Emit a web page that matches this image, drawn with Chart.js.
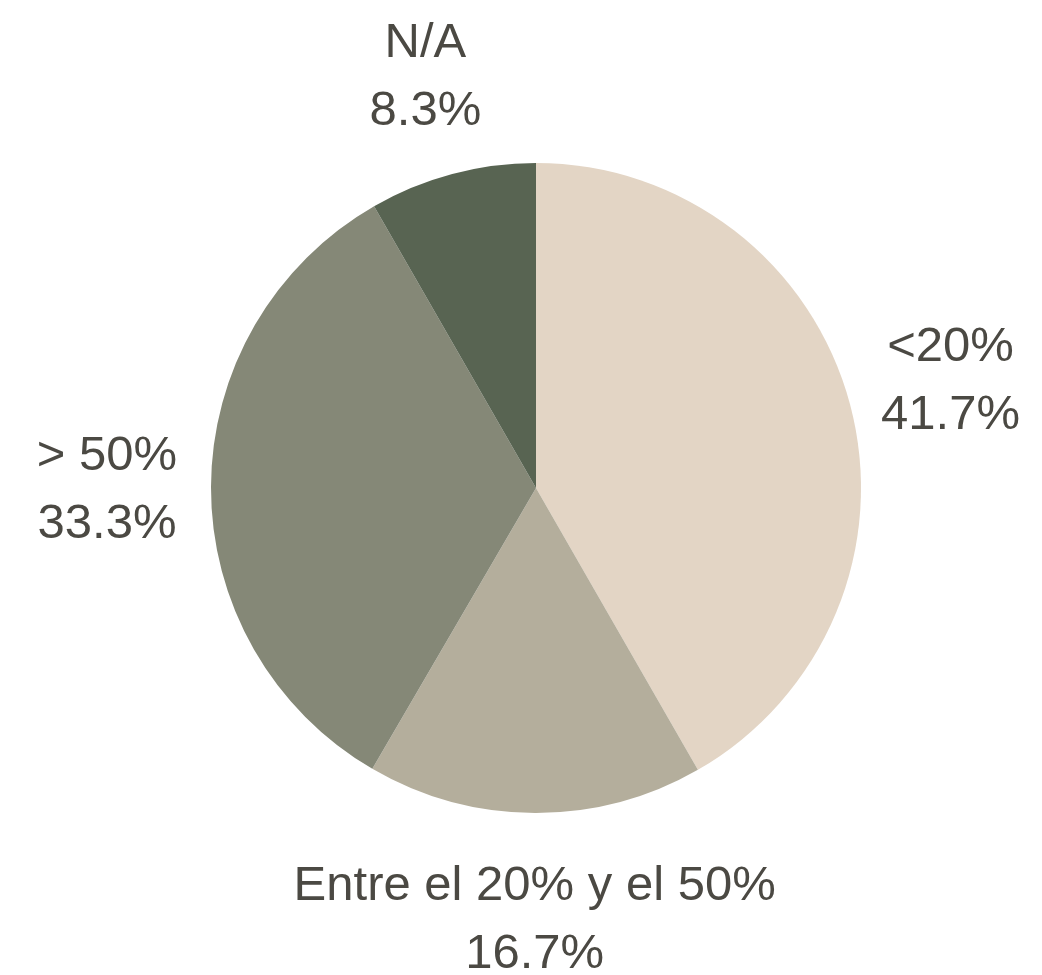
<!DOCTYPE html>
<html>
<head>
<meta charset="utf-8">
<script src="https://cdn.jsdelivr.net/npm/chart.js@4"></script>
<style>
  html, body { margin: 0; padding: 0; background: #ffffff; }
  #wrap { width: 1042px; height: 975px; }
</style>
</head>
<body>
<div id="wrap"><canvas id="pieChart" width="1042" height="975"></canvas></div>
<script>
const categories = ['<20%', 'Entre el 20% y el 50%', '> 50%', 'N/A'];
const shares = [41.7, 16.7, 33.3, 8.3];
const sliceColors = ['#E3D5C5', '#B4AE9C', '#858877', '#586452'];

// draws the two-line label (name + percent) outside each slice
const outsideLabels = {
    id: 'outsideLabels',
    afterDraw(chart) {
        const ctx = chart.ctx;
        const meta = chart.getDatasetMeta(0);
        ctx.save();
        ctx.font = '49px "Liberation Sans", Arial, sans-serif';
        ctx.fillStyle = '#4B4943';
        ctx.textAlign = 'center';
        ctx.textBaseline = 'alphabetic';
        meta.data.forEach((arc, i) => {
            const p = arc.getProps(['x', 'y', 'startAngle', 'endAngle', 'outerRadius'], true);
            const mid = (p.startAngle + p.endAngle) / 2;
            const dist = p.outerRadius + 104;
            const cx = p.x + Math.cos(mid) * dist;
            const cy = p.y + Math.sin(mid) * dist;
            const base = cy - 16.5;
            ctx.fillText(categories[i], cx, base);
            ctx.fillText(shares[i].toFixed(1) + '%', cx, base + 68);
        });
        ctx.restore();
    }
};

new Chart(document.getElementById('pieChart').getContext('2d'), {
    type: 'pie',
    data: {
        labels: categories,
        datasets: [{
            data: shares,
            backgroundColor: sliceColors,
            borderWidth: 0
        }]
    },
    options: {
        responsive: false,
        animation: false,
        layout: { padding: { left: 211, right: 181, top: 163, bottom: 162 } },
        plugins: {
            legend: { display: false },
            tooltip: { enabled: false }
        }
    },
    plugins: [outsideLabels]
});
</script>
</body>
</html>
